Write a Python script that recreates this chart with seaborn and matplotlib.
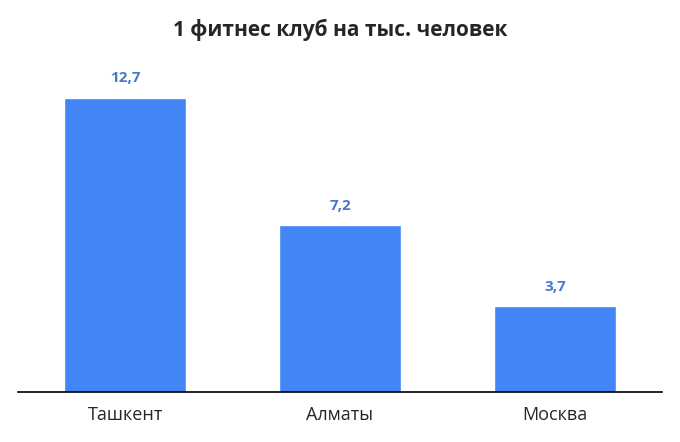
import matplotlib
matplotlib.use("Agg")
import matplotlib.pyplot as plt
import seaborn as sns
import pandas as pd

# Data
cities = ["Ташкент", "Алматы", "Москва"]
values = [12.7, 7.2, 3.7]
value_labels = ["12,7", "7,2", "3,7"]

sns.set_style("white")
plt.rcParams["font.family"] = ["Open Sans", "DejaVu Sans"]

df = pd.DataFrame({"city": cities, "value": values})

fig = plt.figure(figsize=(6.8, 4.42), dpi=100)
ax = fig.add_axes([0.026, 0.113, 0.948, 0.76])
sns.barplot(data=df, x="city", y="value", color="#4285F4", width=0.567,
            saturation=1, ax=ax)

for i, (v, lab) in enumerate(zip(values, value_labels)):
    ax.text(i, v + 0.55, lab, ha="center", va="bottom", fontsize=11,
            fontweight="bold", color="#4A78C8")

ax.set_xlim(-0.5, 2.5)
ax.set_ylim(0, 14.5)
ax.set_xlabel("")
ax.set_ylabel("")
ax.set_yticks([])
for s in ["top", "right", "left"]:
    ax.spines[s].set_visible(False)
ax.spines["bottom"].set_color("black")
ax.spines["bottom"].set_linewidth(1.2)
ax.tick_params(axis="x", length=0, labelsize=13, pad=10)

fig.text(0.5, 0.932, "1 фитнес клуб на тыс. человек", ha="center", va="center",
         fontsize=15, fontweight="bold")

fig.savefig("out.png", dpi=100)
